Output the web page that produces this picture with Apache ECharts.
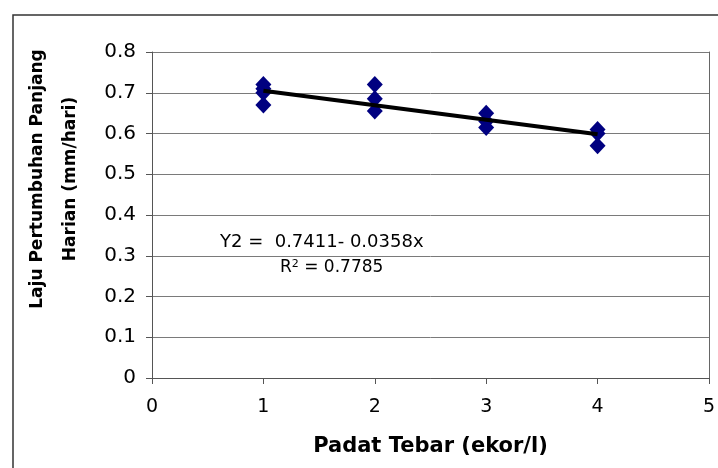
<!DOCTYPE html>
<html>
<head>
    <meta charset="UTF-8">
    <title>Laju Pertumbuhan Panjang Harian</title>
    <script src="https://cdn.jsdelivr.net/npm/echarts@6.0.0/dist/echarts.min.js"></script>
    <style>
        html, body { margin: 0; padding: 0; background: #fff; }
        #chart { width: 718px; height: 468px; }
    </style>
</head>
<body>
    <div id="chart"></div>
    <script>
        // data
        const padatTebar = [1, 1, 1, 1, 2, 2, 2, 3, 3, 3, 4, 4, 4];
        const lajuPanjang = [0.72, 0.71, 0.70, 0.67, 0.72, 0.685, 0.655, 0.65, 0.63, 0.615, 0.61, 0.60, 0.57];
        const trendX = [1, 4];
        const trendY = [0.705, 0.598];
        const yTicks = [0, 0.1, 0.2, 0.3, 0.4, 0.5, 0.6, 0.7, 0.8];
        const xTicks = [0, 1, 2, 3, 4, 5];

        const font = 'DejaVu Sans, sans-serif';
        const chart = echarts.init(document.getElementById('chart'));

        const option = {
            backgroundColor: '#fff',
            animation: false,
            grid: { left: 152, right: 8, top: 52, bottom: 90 },
            xAxis: {
                type: 'value',
                min: xTicks[0],
                max: xTicks[xTicks.length - 1],
                interval: 1,
                name: 'Padat Tebar (ekor/l)',
                nameLocation: 'middle',
                nameGap: 58,
                nameTextStyle: { fontFamily: font, fontSize: 21, fontWeight: 'bold', color: '#000' },
                axisLine: { lineStyle: { color: '#555', width: 1 } },
                axisTick: { show: true, length: 6, inside: false, lineStyle: { color: '#555' } },
                axisLabel: { fontFamily: font, fontSize: 19, color: '#000', margin: 20 },
                splitLine: { show: false }
            },
            yAxis: [{
                type: 'value',
                min: yTicks[0],
                max: yTicks[yTicks.length - 1],
                interval: 0.1,
                axisLine: { show: true, lineStyle: { color: '#555', width: 1 } },
                axisTick: { show: true, length: 6, lineStyle: { color: '#555' } },
                axisLabel: {
                    fontFamily: font, fontSize: 20, color: '#000', margin: 16,
                    formatter: v => v === 0 ? '0' : v.toFixed(1)
                },
                splitLine: { show: true, lineStyle: { color: '#7a7a7a', width: 1 } }
            }, {
                type: 'value',
                position: 'right',
                min: yTicks[0],
                max: yTicks[yTicks.length - 1],
                interval: 0.1,
                axisLine: { show: true, lineStyle: { color: '#666', width: 1 } },
                axisTick: { show: false },
                axisLabel: { show: false },
                splitLine: { show: false }
            }],
            series: [{
                type: 'scatter',
                data: padatTebar.map((x, i) => [x, lajuPanjang[i]]),
                symbol: 'diamond',
                symbolSize: [16, 17],
                itemStyle: { color: '#000080', opacity: 1 },
                z: 3
            }, {
                type: 'line',
                data: trendX.map((x, i) => [x, trendY[i]]),
                symbol: 'none',
                lineStyle: { color: '#000', width: 4 },
                z: 4
            }],
            graphic: [{
                type: 'rect',
                shape: { x: 13, y: 15, width: 720, height: 470 },
                style: { fill: null, stroke: '#333', lineWidth: 1.5 },
                silent: true
            }, {
                type: 'text',
                x: 54, y: 179,
                rotation: Math.PI / 2,
                style: {
                    text: 'Laju Pertumbuhan Panjang\nHarian (mm/hari)',
                    font: 'bold 17px ' + font,
                    fill: '#000',
                    align: 'center',
                    verticalAlign: 'middle',
                    lineHeight: 33
                }
            }, {
                type: 'text',
                x: 220, y: 242,
                style: {
                    text: 'Y2 =  0.7411- 0.0358x',
                    font: '18px ' + font,
                    fill: '#000',
                    verticalAlign: 'middle'
                }
            }, {
                type: 'text',
                x: 280, y: 268,
                style: {
                    text: 'R{sup|2} = 0.7785',
                    font: '17px ' + font,
                    fill: '#000',
                    verticalAlign: 'middle',
                    rich: { sup: { fontSize: 11, verticalAlign: 'top', padding: [0, 0, 8, 0], fontFamily: font } }
                }
            }]
        };

        chart.setOption(option);
        window.addEventListener('resize', function() { chart.resize(); });
    </script>
</body>
</html>
